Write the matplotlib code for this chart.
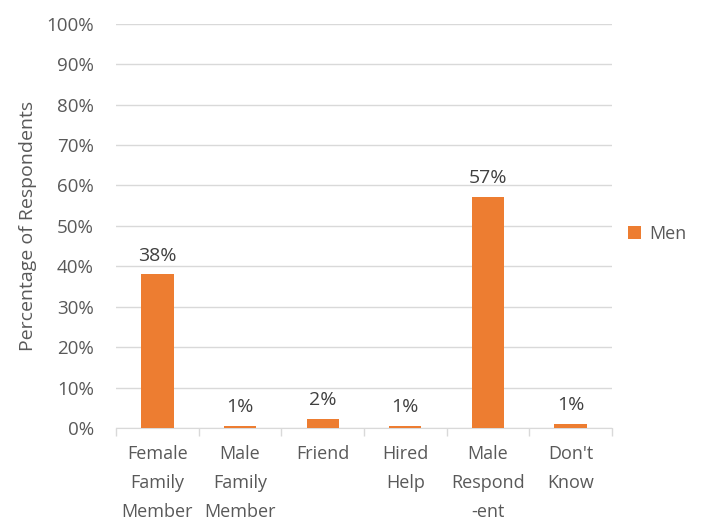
import matplotlib.pyplot as plt
import numpy as np

categories = ['Female\nFamily\nMember', 'Male\nFamily\nMember', 'Friend',
              'Hired\nHelp', 'Male\nRespond\n-ent', "Don't\nKnow"]
men = [38.0, 0.5, 2.2, 0.5, 57.2, 1.0]
labels = ['38%', '1%', '2%', '1%', '57%', '1%']

plt.rcParams['font.family'] = ['Open Sans', 'DejaVu Sans']
txt = '#595959'

fig = plt.figure(figsize=(7.04, 5.21), dpi=100)
ax = fig.add_axes([0.165, 0.1785, 0.704, 0.776])

x = np.arange(len(categories))
bars = ax.bar(x, men, width=0.39, color='#ED7D31', label='Men', zorder=3)

for b, lab in zip(bars, labels):
    ax.annotate(lab, (b.get_x() + b.get_width() / 2, b.get_height()),
                xytext=(0, 7), textcoords='offset points',
                ha='center', va='bottom', fontsize=14, color='#404040')

ax.set_xlim(-0.5, len(categories) - 0.5)
ax.set_ylim(0, 100)
ax.set_yticks(np.arange(0, 101, 10))
ax.set_yticklabels([f'{v}%' for v in range(0, 101, 10)])
ax.yaxis.grid(True, color='#d9d9d9', linewidth=1, zorder=0)
ax.tick_params(axis='y', length=0, pad=16, labelsize=13.5, labelcolor=txt)

# category boundaries as tick marks, labels on minor ticks
ax.set_xticks(np.arange(-0.5, len(categories), 1))
ax.set_xticklabels([])
ax.tick_params(axis='x', which='major', length=6, color='#d9d9d9', width=1)
ax.set_xticks(x, minor=True)
ax.set_xticklabels(categories, minor=True, linespacing=1.8)
ax.tick_params(axis='x', which='minor', length=0, pad=12, labelsize=13,
               labelcolor=txt)

for s in ['top', 'right', 'left']:
    ax.spines[s].set_visible(False)
ax.spines['bottom'].set_color('#d9d9d9')

ax.set_ylabel('Percentage of Respondents', fontsize=14, color=txt, labelpad=7)

ax.legend(loc='center left', bbox_to_anchor=(1.0, 0.48), frameon=False,
          fontsize=13, labelcolor=txt, handlelength=0.7, handleheight=0.7,
          handletextpad=0.5)

fig.savefig('out.png', dpi=100)
